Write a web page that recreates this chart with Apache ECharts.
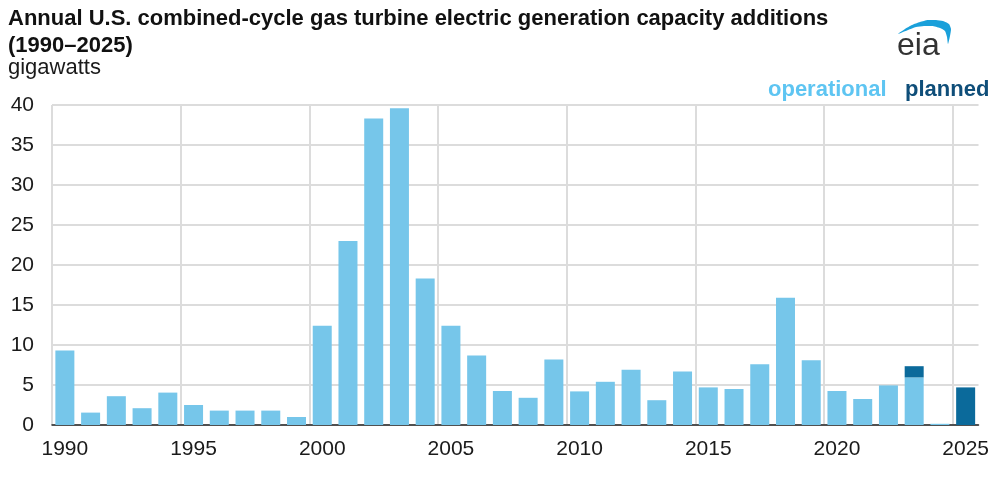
<!DOCTYPE html>
<html>
<head>
<meta charset="utf-8">
<script src="https://cdn.jsdelivr.net/npm/echarts@6/dist/echarts.min.js"></script>
<style>
  html, body { margin: 0; padding: 0; background: #fff; }
  #chart { width: 992px; height: 481px; }
</style>
</head>
<body>
<div id="chart"></div>
<script>
// data
const years = ['1990','1991','1992','1993','1994','1995','1996','1997','1998','1999',
  '2000','2001','2002','2003','2004','2005','2006','2007','2008','2009',
  '2010','2011','2012','2013','2014','2015','2016','2017','2018','2019',
  '2020','2021','2022','2023','2024','2025']
const operational = [9.3,1.55,3.6,2.1,4.05,2.5,1.8,1.8,1.8,1.0,
  12.4,23.0,38.3,39.6,18.3,12.4,8.7,4.25,3.4,8.2,
  4.2,5.4,6.9,3.1,6.7,4.7,4.5,7.6,15.9,8.1,
  4.25,3.25,4.95,5.95,0.15,0]
const planned = [0,0,0,0,0,0,0,0,0,0,
  0,0,0,0,0,0,0,0,0,0,
  0,0,0,0,0,0,0,0,0,0,
  0,0,0,1.4,0,4.7]
const yTicks = [0,5,10,15,20,25,30,35,40]

const font = 'Arial, "Liberation Sans", sans-serif'
const lightBlue = '#76c6ea'
const darkBlue = '#0b6a9b'

const chart = echarts.init(document.getElementById('chart'))

// last vertical grid line (right edge) is hidden
const vColors = ['#dcdcdc','#dcdcdc','#dcdcdc','#dcdcdc','#dcdcdc','#dcdcdc','#dcdcdc','#dcdcdc','rgba(0,0,0,0)']

// eia logo swoosh
const swoosh = [[898,34],[905,29],[912,25],[920,22],[928,20],[936,20],[943,21],[949,24],[951,29],[950,36],[948,44],
  [947,37],[945,31],[940,28],[932,26],[924,26],[916,27],[908,30]]

const option = {
  animation: false,
  grid: { left: 52, right: 13, top: 105, bottom: 56 },
  xAxis: {
    type: 'category',
    data: years,
    boundaryGap: true,
    axisLine: { lineStyle: { color: '#222', width: 1.5 } },
    axisTick: { interval: 4, length: 6, lineStyle: { color: '#222', width: 1.5 } },
    axisLabel: { interval: 4, fontSize: 21, color: '#1a1a1a', fontFamily: font, margin: 14 },
    splitLine: { show: true, interval: 4, lineStyle: { color: vColors, width: 2 } }
  },
  yAxis: {
    type: 'value',
    min: yTicks[0],
    max: yTicks[yTicks.length - 1],
    interval: 5,
    axisLine: { show: false },
    axisTick: { show: false },
    axisLabel: { fontSize: 21, color: '#1a1a1a', fontFamily: font, margin: 18 },
    splitLine: { lineStyle: { color: '#dcdcdc', width: 2 } }
  },
  series: [
    {
      name: 'operational',
      type: 'bar',
      stack: 'cap',
      barWidth: 19,
      itemStyle: { color: lightBlue },
      data: operational
    },
    {
      name: 'planned',
      type: 'bar',
      stack: 'cap',
      barWidth: 19,
      itemStyle: { color: darkBlue },
      data: planned
    }
  ],
  graphic: [
    {
      type: 'text', left: 8, top: 5,
      style: { text: 'Annual U.S. combined-cycle gas turbine electric generation capacity additions\n(1990\u20132025)',
        font: 'bold 22px ' + font, fill: '#111', lineHeight: 27 }
    },
    {
      type: 'text', left: 8, top: 57,
      style: { text: 'gigawatts', font: '22px ' + font, fill: '#1a1a1a' }
    },
    {
      type: 'text', left: 768, top: 79,
      style: { text: 'operational', font: 'bold 22px ' + font, fill: '#5ec5f2' }
    },
    {
      type: 'text', left: 905, top: 79,
      style: { text: 'planned', font: 'bold 22px ' + font, fill: '#0f4e79' }
    },
    {
      type: 'polygon',
      shape: { points: swoosh, smooth: 0.2 },
      style: { fill: '#1aa0da' }
    },
    {
      type: 'text', left: 897, top: 30,
      style: { text: 'eia', font: '32px ' + font, fill: '#333' }
    }
  ]
}

chart.setOption(option)
</script>
</body>
</html>
